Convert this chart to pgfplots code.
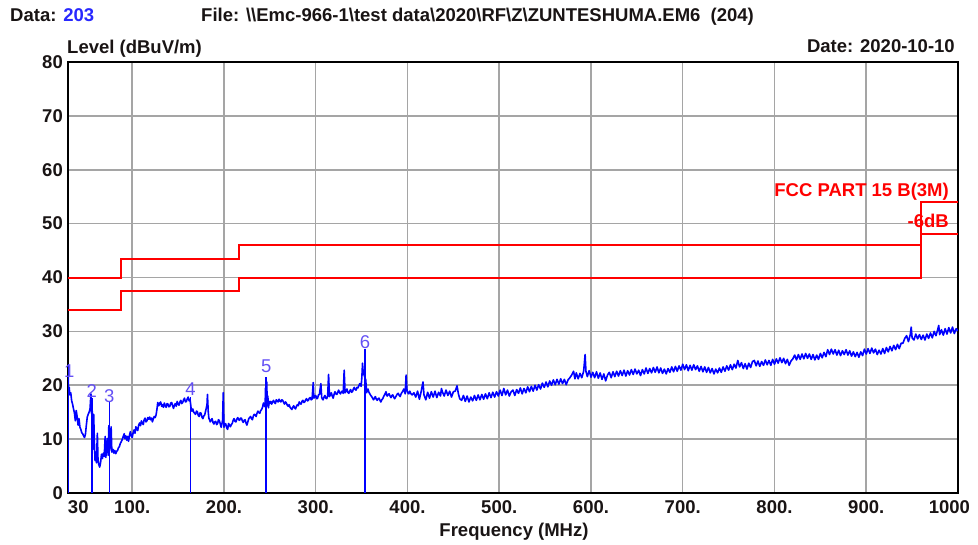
\documentclass[border=0pt]{standalone}
\usepackage{fontspec}
\setmainfont{Liberation Sans}
\usepackage{pgfplots}
\pgfplotsset{compat=1.18}
\definecolor{trace}{RGB}{0,0,255}
\definecolor{lim}{RGB}{255,0,0}
\definecolor{gridc}{RGB}{165,165,165}
\definecolor{mk}{RGB}{100,80,245}
\definecolor{txt}{RGB}{25,20,20}
\definecolor{datab}{RGB}{40,40,255}
\newcommand{\bigf}{\fontsize{18.5}{20}\selectfont}
\pgfplotsset{emcgeom/.style={
 at={(68pt,51pt)}, anchor=south west,
 scale only axis, width=890pt, height=431pt,
 xmin=30, xmax=1000, ymin=0, ymax=80}}
\begin{document}
\begin{tikzpicture}[x=1pt,y=1pt]
\useasboundingbox (0,0) rectangle (978,544);
% frame, grid and ticks
\begin{axis}[
 emcgeom,
 xtick={100,200,...,900},
 xticklabels={100.,200.,300.,400.,500.,600.,700.,800.,900.},
 extra x ticks={30,1000},
 extra x tick labels={\makebox[0pt][l]{30},\makebox[0pt][r]{1000\kern-12pt}},
 extra x tick style={grid=none},
 ytick={0,10,...,80},
 grid=major,
 major grid style={gridc, line width=1.5pt},
 major tick length=0pt,
 axis line style={black, line width=1.6pt},
 tick label style={font=\bigf\bfseries, text=txt},
 xticklabel style={anchor=north, inner sep=0pt, yshift=-7pt},
 yticklabel style={anchor=east, inner sep=0pt, xshift=-5pt},
 /pgf/number format/assume math mode=true,
]
\addplot[draw=none, mark=none, forget plot] coordinates {(30,0)(1000,80)};
\end{axis}
% data on top of the grid
\begin{axis}[emcgeom, hide axis, clip=true]
% limit lines
\addplot[lim, line width=2pt, mark=none] coordinates {(30,40)(88,40)(88,43.5)(216,43.5)(216,46)(960,46)(960,54)(1000,54)};
\addplot[lim, line width=2pt, mark=none] coordinates {(30,34)(88,34)(88,37.5)(216,37.5)(216,40)(960,40)(960,48)(1000,48)};
% measured trace
\addplot[trace, line width=1.6pt, mark=none, line join=round] coordinates {
(30,23.8)(30.6,19.2)(31.3,19.6)(32,18.2)(33,18.6)(34,17.1)(35,16.5)(36,15.6)(37,14.9)(38,13.4)(39,15.3)(40,14.1)(41,12.6)(42,13.8)(43,12.2)(44,11.8)(45,11.2)(46,11.0)(47,10.6)(48,10.3)(49,10.9)(50,12.6)(51,14.1)(52,14.6)(53,15.0)(54,15.6)(55,18.4)(55.6,14.8)(56.5,15.2)(57.2,8.1)(58,14.6)(58.8,9.2)(59.5,6.0)(60.3,7.1)(61,5.6)(62,11.1)(62.7,6.2)(63.5,5.3)(64.5,4.8)(65.5,5.6)(66.5,7.2)(67.5,6.4)(68.5,7.4)(69.5,6.8)(70.5,10.5)(71.2,6.6)(72,8.1)(73,10.1)(73.8,7.0)(74.5,12.5)(75.2,7.8)(76,9.2)(77,12.3)(77.8,7.6)(79,8.1)(80,7.4)(81,7.9)(82,7.3)(83,7.7)(84,7.9)(85,8.4)(86,8.6)(87,9.2)(88,9.5)(89,9.9)(90,10.4)(91.3,11.0)(92,10.1)(93,10.6)(94,9.8)(95,10.5)(96,9.6)(97,10.7)(98,11.4)(99,10.6)(100,10.3)(101,11.2)(102,11.7)(103,11.1)(104,12.3)(105,11.8)(106,11.6)(107,12.6)(108,13.0)(109,12.5)(110,13.4)(111,13.0)(112,12.7)(113,13.6)(114,13.9)(115,13.2)(116,13.4)(117,14.0)(118,13.7)(119,14.1)(120,13.6)(121,13.9)(122,13.2)(123,13.8)(124,14.2)(125,14.0)(126,14.5)(127,15.6)(127.8,16.8)(129,16.2)(130,16.7)(131,16.9)(132,16.1)(133,16.4)(134,15.9)(135,16.7)(136,16.2)(137,15.9)(138,16.6)(139,16.5)(140,16.0)(141,16.1)(142,16.7)(143,16.8)(144,16.2)(145,15.7)(146,16.3)(147,16.6)(148,16.1)(149,17.0)(150,16.5)(151,16.3)(152,16.9)(153,17.2)(154,16.6)(155,16.8)(156,17.3)(157,17.6)(158,16.9)(159,17.0)(160,17.5)(161,17.8)(162,17.1)(163,17.4)(164.5,15.3)(165,15.2)(166,15.6)(167,15.0)(168,14.8)(169,14.6)(170,15.2)(171,15.1)(172,14.4)(173,14.2)(174,14.9)(175,14.8)(176,14.1)(177,13.8)(178,14.3)(179,14.5)(180.5,15.6)(181.5,16.4)(182,18.3)(182.8,15.2)(183.5,13.9)(184.5,13.5)(185,13.2)(186,13.5)(187,13.8)(188,13.1)(189,12.8)(190,13.2)(191,13.3)(192,12.7)(193,12.9)(194,13.6)(195,13.4)(196,12.8)(197,12.2)(198.5,13.5)(199.2,18.6)(200,12.2)(201,12.9)(202,12.8)(203,12.1)(204,11.8)(205,12.9)(206,12.6)(207,12.3)(208,12.7)(209,12.9)(210,13.5)(211,13.8)(212,13.3)(213,13.2)(214,13.7)(215,14.0)(216,13.6)(217,13.5)(218,13.9)(219,13.9)(220,13.4)(221,13.1)(222,13.5)(223,13.6)(224,13.0)(225,12.6)(226,13.2)(227,13.8)(228,14.0)(229,14.2)(230,13.8)(231,13.6)(232,14.3)(233,14.6)(234,14.5)(235,14.2)(236,14.8)(237,15.2)(238,14.9)(239,14.8)(240,15.3)(241,15.5)(242,15.9)(243,16.7)(244,16.2)(244.8,16.0)(245.3,19.5)(245.8,15.8)(246.6,20.6)(247.2,16.2)(247.8,18.0)(248.5,15.8)(249.3,17.0)(250,16.6)(251,17.0)(252,16.5)(253,16.9)(254,17.2)(255,16.8)(256,16.6)(257,17.3)(258,17.1)(259,16.9)(260,17.4)(261,17.1)(262,16.9)(263,17.3)(264,17.2)(265,16.8)(266,16.5)(267,16.9)(268,16.7)(269,16.3)(270,16.1)(271,16.4)(272,15.9)(273,15.7)(274,15.5)(275,15.9)(276,16.2)(277,15.8)(278,15.6)(279,16.1)(280,16.4)(281,16.2)(282,16.9)(283,16.6)(284,16.5)(285,17.0)(286,17.2)(287,16.8)(288,16.9)(289,17.3)(290,17.5)(291,17.1)(292,17.2)(293,17.6)(294,17.7)(295,17.3)(296,17.4)(297.3,20.5)(298,17.6)(299,17.9)(300,18.1)(301,17.5)(302,17.6)(303,18.2)(304,18.3)(305.6,20.3)(306.5,17.8)(307,17.5)(308,17.3)(309,17.8)(310,18.1)(311,17.6)(312,17.5)(313,18.0)(314,22.0)(315,17.9)(316,18.2)(317,18.6)(318,18.0)(319,17.6)(320,18.3)(321,18.8)(322,18.4)(323,18.3)(324,18.7)(325,19.1)(326,18.6)(327,18.4)(328,18.8)(329,18.9)(330,18.5)(331,22.8)(332,18.6)(333,18.9)(334,19.3)(335,18.7)(336,18.5)(337,18.9)(338,19.2)(339,18.7)(340,18.8)(341,19.3)(342,19.6)(343,19.2)(344,19.1)(345,19.6)(346,19.5)(347,19.9)(348,20.3)(349.5,19.8)(350.3,21.5)(351,24.1)(351.8,22.0)(352.5,22.8)(353.2,21.6)(354.5,21.0)(355.5,18.6)(356,19.0)(357,19.3)(358,18.7)(359,18.4)(360,18.1)(361,17.9)(362,17.6)(363,17.3)(364,17.6)(365,17.9)(366,17.4)(367,17.2)(368,17.5)(369,17.6)(370,17.2)(371,16.9)(372,17.3)(373,17.5)(374,17.9)(375,18.2)(376.6,18.8)(377.5,18.1)(378,18.0)(379,18.3)(380,18.4)(381,18.0)(382,17.7)(383,18.1)(384,18.2)(385,17.8)(386,17.5)(387,17.8)(388,18.1)(389,18.4)(390,18.5)(391,18.1)(392,17.9)(393,18.4)(394.5,18.8)(396,19.3)(397.5,18.4)(398.5,21.9)(399.5,19.0)(400.5,18.6)(401.5,18.4)(402.5,18.9)(403.5,18.5)(405,18.2)
(407,18.6)(409,17.8)(411,18.9)(413,17.4)(415,18.9)(416.9,20.6)(418,18.2)(420,17.3)(422,18.7)(424,17.6)(426,18.8)(428,17.8)(430,18.9)(432,17.7)(434,18.7)(436,18.0)(437,19.4)(438,18.8)(440,18.0)(442,19.1)(444,18.1)(446,18.9)(448,17.8)(450,18.8)(452,18.9)(454,19.9)(455.5,18.4)(457,17.5)(459,17.2)(461,18.1)(463,17.0)(465,18.0)(467,16.9)(469,17.8)(471,17.1)(473,18.1)(475,17.2)(477,18.2)(479,17.3)(481,18.3)(483,17.4)(485,18.4)(487,17.5)(489,18.6)(491,17.7)(493,18.7)(495,17.8)(497,18.8)(499,18.0)(501,19.1)(503,18.1)(505,19.4)(507,18.2)(509,19.1)(511,18.0)(513,18.8)(515,19.1)(517,18.1)(519,19.2)(521,18.5)(523,19.5)(525,18.4)(527,19.4)(529,18.6)(531,19.7)(533,18.8)(535,19.8)(537,18.9)(539,20.0)(541,19.1)(543,20.1)(545,19.3)(547,20.4)(549,19.6)(551,20.6)(553,19.7)(555,20.8)(557,20.0)(559,21.0)(561,20.1)(563,21.1)(565,20.2)(567,21.2)(569,20.3)(571,21.1)(573,20.1)(575,21.0)(577,21.4)(579,21.9)(581,22.6)(582.5,21.2)(584,22.3)(586,21.2)(588,22.2)(590,21.4)(592,22.6)(593.6,25.7)(594.5,22.6)(596,21.6)(598,22.7)(600,21.5)(602,22.4)(604,21.4)(606,22.5)(608,21.3)(610,22.3)(612,21.1)(614,22.1)(616,20.8)(618,21.9)(620,22.4)(622,21.4)(624,22.5)(626,21.6)(628,22.6)(630,21.7)(632,22.7)(634,21.8)(636,22.8)(638,21.7)(640,22.7)(642,21.9)(644,22.9)(646,22.0)(648,23.0)(650,22.1)(652,22.8)(654,21.8)(656,22.9)(658,22.1)(660,23.2)(662,22.2)(664,23.1)(666,22.3)(668,23.3)(670,22.4)(672,23.4)(674,22.3)(676,23.2)(678,22.2)(680,23.0)(682,22.1)(684,23.1)(686,22.4)(688,23.4)(690,22.5)(692,23.5)(694,22.6)(696,23.6)(698,22.8)(700,23.9)(702,22.9)(704,23.8)(706,22.7)(708,23.7)(710,22.8)(712,23.8)(714,22.9)(716,23.6)(718,22.6)(720,23.5)(722,22.5)(724,23.4)(726,22.4)(728,23.3)(730,22.3)(732,23.1)(734,22.1)(736,23.0)(738,22.3)(740,23.2)(742,22.4)(744,23.4)(746,22.6)(748,23.6)(750,22.8)(752,23.8)(754,22.9)(756,23.9)(758,23.2)(760,24.6)(762,23.4)(764,24.2)(766,23.1)(768,24.0)(770,23.0)(772,24.1)(774,23.3)(776,24.4)(778,24.6)(780,23.6)(782,24.5)(784,23.5)(786,24.4)(788,23.7)(790,24.7)(792,23.8)(794,24.6)(796,23.7)(798,24.8)(800,23.9)(802,24.9)(804,24.1)(806,25.1)(808,24.2)(810,25.0)(812,24.0)(814,24.8)(816,23.7)(818,24.5)(820,24.9)(822,25.6)(824,24.7)(826,25.7)(828,24.8)(830,25.8)(832,24.9)(834,25.9)(836,25.0)(838,25.8)(840,24.8)(842,25.7)(844,24.7)(846,25.6)(848,24.8)(850,25.9)(852,25.1)(854,26.1)(856,25.3)(858,26.6)(860,25.7)(862,26.7)(864,25.8)(866,26.6)(868,25.6)(870,26.5)(872,25.5)(874,26.4)(876,25.7)(878,26.6)(880,25.6)(882,26.4)(884,25.4)(886,26.2)(888,25.3)(890,26.1)(892,25.2)(894,26.2)(896,25.5)(898,26.7)(900,25.8)(902,26.8)(904,25.9)(906,26.9)(908,26.0)(910,26.7)(912,25.7)(914,26.5)(916,25.8)(918,26.8)(920,25.9)(922,27.0)(924,26.2)(926,27.2)(928,26.4)(930,27.4)(932,26.6)(934,27.6)(936,26.8)(938,27.8)(940,27.8)(942,28.7)(944,29.2)(946,28.1)(948,29.4)(949,30.8)(950,28.8)(952,28.4)(954,29.5)(956,28.6)(958,29.4)(960,28.5)(962,29.3)(964,28.4)(966,29.5)(968,28.7)(970,29.7)(972,28.8)(974,30.0)(976,29.2)(978,30.4)(979,31.1)(980,29.4)(982,30.3)(984,29.3)(986,30.5)(988,29.5)(990,30.7)(992,29.7)(994,30.8)(996,29.6)(998,30.5)(1000,30.1)
};
% marker lines
\addplot[ycomb, trace, line width=1.4pt, mark=none] coordinates {(30.3,24.0)(56,17.6)(75,16.9)(163.6,17.8)(246,21.5)(353.8,26.8)};
% marker labels
\addplot[draw=none, mark=none, nodes near coords, point meta=explicit symbolic,
  nodes near coords style={font=\bigf, text=mk, anchor=south, inner sep=0.5pt}]
  coordinates {(31.5,21.3)[1] (56,17.6)[2] (75,16.6)[3] (163.6,18.0)[4] (246,22.2)[5] (353.8,26.7)[6]};
\end{axis}
\node[anchor=base west, font=\bigf\bfseries, text=txt, inner sep=0pt] at (10,522) {Data: \textcolor{datab}{203}};
\node[anchor=base west, font=\bigf\bfseries, text=txt, inner sep=0pt] at (201,522) {File: \textbackslash\textbackslash Emc-966-1\textbackslash test data\textbackslash 2020\textbackslash RF\textbackslash Z\textbackslash ZUNTESHUMA.EM6\ \ (204)};
\node[anchor=base west, font=\bigf\bfseries, text=txt, inner sep=0pt] at (67,490) {Level (dBuV/m)};
\node[anchor=base east, font=\bigf\bfseries, text=txt, inner sep=0pt] at (955,491) {Date: 2020-10-10};
\node[anchor=base, font=\bigf\bfseries, text=txt, inner sep=0pt] at (514,8) {Frequency (MHz)};
\node[anchor=base east, font=\bigf\bfseries, text=lim, inner sep=0pt] at (949,347) {FCC PART 15 B(3M)};
\node[anchor=base east, font=\bigf\bfseries, text=lim, inner sep=0pt] at (949,316) {-6dB};
\end{tikzpicture}
\end{document}
